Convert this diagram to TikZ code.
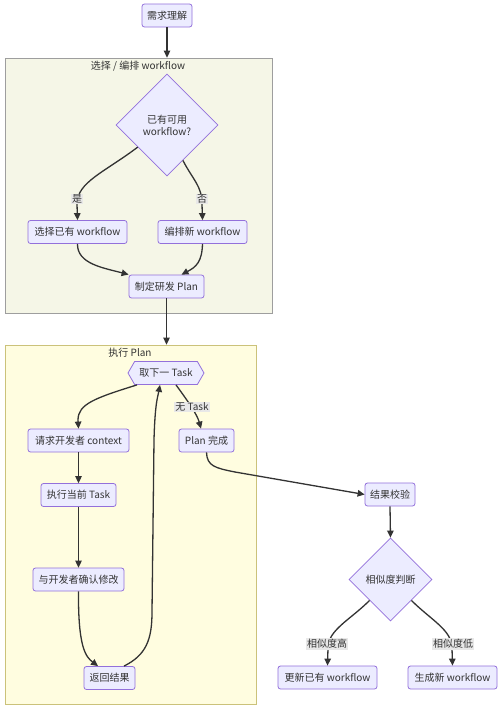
\documentclass[tikz,border=0pt]{standalone}
\usepackage{fontspec}
\setmainfont{Noto Sans CJK SC}
\usetikzlibrary{shapes.geometric,shapes.symbols,arrows.meta,calc}
\definecolor{nodefill}{HTML}{ECECFF}
\definecolor{nodeline}{HTML}{9370DB}
\definecolor{edgec}{HTML}{333333}
\definecolor{textc}{HTML}{333333}
\definecolor{cloneF}{HTML}{F5F6E7}
\definecolor{cloneD}{HTML}{9E9E9E}
\definecolor{cltwoF}{HTML}{FFFDE0}
\definecolor{cltwoD}{HTML}{CBC27A}
\definecolor{lblc}{HTML}{E8E8E8}
\tikzset{
  base/.style={text=textc, font=\fontsize{10}{12}\selectfont},
  box/.style={base, draw=nodeline, fill=nodefill, rounded corners=2.5pt, line width=0.8pt, minimum height=23pt, inner sep=0pt},
  dia/.style={base, diamond, draw=nodeline, fill=nodefill, line width=0.8pt, inner sep=0pt, align=center},
  hexa/.style={base, signal, signal to=west and east, signal pointer angle=120, draw=nodeline, fill=nodefill, line width=0.8pt, minimum height=23pt, inner sep=0pt},
  conn/.style={draw=edgec, line width=1.3pt, -{Triangle[length=7pt,width=6.5pt]}},
  lbl/.style={base, fill=lblc, inner sep=1pt},
  cluone/.style={draw=cloneD, fill=cloneF, line width=0.8pt, inner sep=0pt},
  clutwo/.style={draw=cltwoD, fill=cltwoF, line width=0.8pt, inner sep=0pt},
}
\begin{document}
\begin{tikzpicture}[x=1pt,y=-1pt]
\useasboundingbox[fill=white] (0,0) rectangle (502,710);
% clusters
\node[cluone, minimum width=267pt, minimum height=255pt] (c1) at (138.5,185.5) {};
\node[base] (c1t) at (138,66) {选择 / 编排 workflow};
\node[clutwo, minimum width=251pt, minimum height=359pt] (c2) at (130.5,524.5) {};
\node[base] (c2t) at (130,353) {执行 Plan};
% nodes
\node[box, minimum width=50pt] (req) at (167,15.5) {需求理解};
\node[dia, minimum width=102pt, minimum height=102pt] (d1) at (167,125) {已有可用\\workflow?};
\node[box, minimum width=99pt] (sel) at (77.5,232) {选择已有 workflow};
\node[box, minimum width=89pt] (new) at (202.5,232) {编排新 workflow};
\node[box, minimum width=75pt] (plan) at (166.5,286.5) {制定研发 Plan};
\node[hexa, minimum width=76pt] (hex) at (166,373) {取下一 Task};
\node[box, minimum width=101pt] (ctx) at (78.5,440.5) {请求开发者 context};
\node[box, minimum width=55pt] (done) at (206.5,440.5) {Plan 完成};
\node[box, minimum width=75pt] (exe) at (78.5,495) {执行当前 Task};
\node[box, minimum width=91pt] (conf) at (78.5,579.5) {与开发者确认修改};
\node[box, minimum width=51pt] (ret) at (109.5,678) {返回结果};
\node[box, minimum width=50pt] (chk) at (390,494.5) {结果校验};
\node[dia, minimum width=83pt, minimum height=83pt] (d2) at (390.5,579.5) {相似度判断};
\node[box, minimum width=99pt] (upd) at (327.5,677.5) {更新已有 workflow};
\node[box, minimum width=89pt] (gen) at (452.5,677.5) {生成新 workflow};
% edges
\draw[conn] (req.south) -- (req.south |- c1.north);
\draw[conn] ($(d1.west)!0.43!(d1.south)$) .. controls (105,172) and (77,182) .. (77,204) -- (sel.north);
\draw[conn] ($(d1.south)!0.31!(d1.east)$) .. controls (193,180) and (202,186) .. (202,204) -- (new.north);
\draw[conn] (sel.south) .. controls (77,264) and (104,268) .. (plan.north west);
\draw[conn] (new.south) .. controls (202,262) and (196,267) .. ($(plan.north)+(15,0)$);
\draw[conn] (plan.south) -- (plan.south |- c2.north);
\draw[conn] ($(hex.south)+(-29,0)$) .. controls (95,398) and (78,404) .. (78,420) -- (ctx.north);
\draw[conn] ($(hex.south)+(10,0)$) .. controls (187,400) and (197,414) .. ($(done.north)+(-5.5,0)$);
\draw[conn] (ctx.south) -- (exe.north);
\draw[conn] (exe.south) -- (conf.north);
\draw[conn] (conf.south) .. controls (78,648) and (86,657) .. ($(ret.north)+(-11.5,0)$);
\draw[conn] ($(ret.north)+(14.5,0)$) .. controls (146,655) and (152,640) .. (152,612) -- (154,440) .. controls (155,402) and (158,396) .. ($(hex.south)+(-6,0)$);
\draw[conn] (done.south) .. controls (207,466) and (215,468) .. (235,472) -- (chk.west);
\draw[conn] (chk.south) -- (d2.north);
\draw[conn] ($(d2.west)!0.5!(d2.south)$) .. controls (350,620) and (328,630) .. (328,648) -- (upd.north);
\draw[conn] ($(d2.south)!0.5!(d2.east)$) .. controls (431,620) and (452,630) .. (452,648) -- (gen.north);
% edge labels
\node[lbl] (l1) at (77,199) {是};
\node[lbl] (l2) at (202,199) {否};
\node[lbl] (l3) at (192,407) {无 Task};
\node[lbl] (l4) at (327,644) {相似度高};
\node[lbl] (l5) at (453,644) {相似度低};
\end{tikzpicture}
\end{document}
